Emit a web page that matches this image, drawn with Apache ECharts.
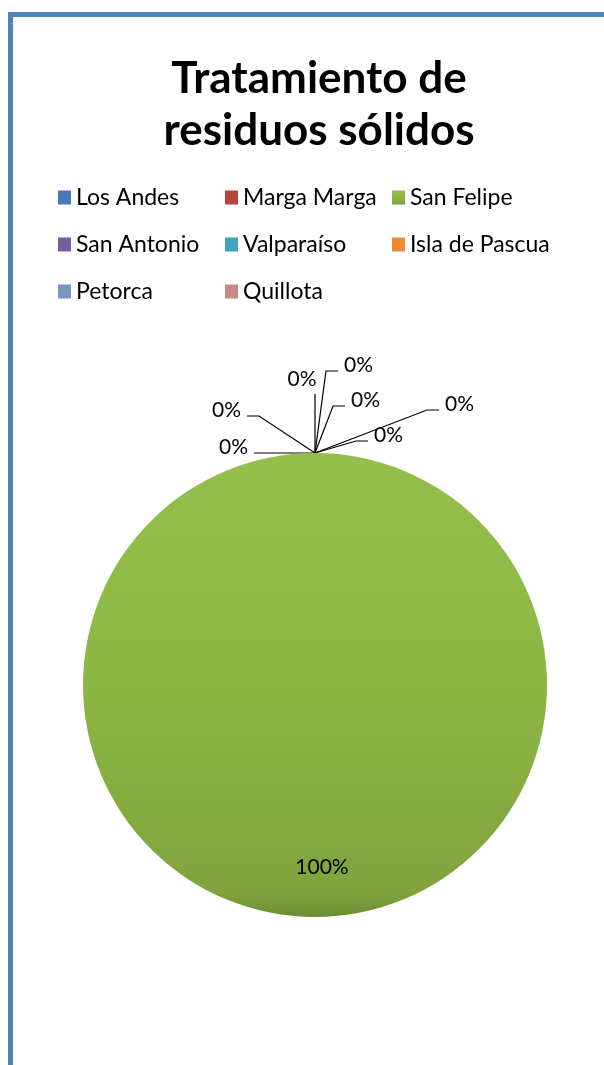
<!DOCTYPE html>
<html>
<head>
<meta charset="utf-8">
<script src="https://cdn.jsdelivr.net/npm/echarts@6/dist/echarts.min.js"></script>
<style>
	html, body { margin: 0; padding: 0; background: #fff; overflow: hidden; }
	#chart { width: 604px; height: 1065px; }
	.frame {
		position: absolute; left: 8px; top: 12px;
		width: 800px; height: 1300px;
		border: 5px solid #5283c0;
		pointer-events: none;
	}
</style>
</head>
<body>
<div id="chart"></div>
<div class="frame"></div>
<script>
var titleText = 'Tratamiento de\nresiduos sólidos';
var provincias = ['Los Andes', 'Marga Marga', 'San Felipe', 'San Antonio', 'Valparaíso', 'Isla de Pascua', 'Petorca', 'Quillota'];
var valores = [0, 0, 100, 0, 0, 0, 0, 0];
var colores = ['#4a7ab5', '#b8443f', '#8fb54c', '#7a5b9c', '#3fa3bf', '#ee8a35', '#7b95c2', '#c88886'];

// sitios de las etiquetas en 0%: codo relativo a la parte alta del pie, lado
var labelSpots = [[112, -43, 1], [41, -12, 1], [18, -47, 1], [11, -82, 1], [0, -59, 0], [-56, -37, -1], [-49, 0, -1]];

var cx = 315, cy = 685, r = 232;

var myChart = echarts.init(document.getElementById('chart'));

var pieData = [];
for (var i = 0; i < provincias.length; i++) {
	var item = {
		name: provincias[i],
		value: valores[i],
		itemStyle: { color: colores[i] }
	};
	if (valores[i] > 0) {
		item.itemStyle.color = {
			type: 'linear', x: 0, y: 0, x2: 0, y2: 1,
			colorStops: [
				{ offset: 0, color: '#95bf4d' },
				{ offset: 0.5, color: '#8cb744' },
				{ offset: 0.95, color: '#7fa33e' },
				{ offset: 1, color: '#6c8c33' }
			]
		};
		item.label = { position: 'inside' };
		item.labelLine = { show: false };
	}
	pieData.push(item);
}

var zeroOrder = [];
for (var j = 0; j < valores.length; j++) {
	if (valores[j] === 0) zeroOrder.push(j);
}

var option = {
	backgroundColor: '#fff',
	animation: false,
	title: {
		text: titleText,
		left: 314,
		top: 48,
		textAlign: 'center',
		textStyle: {
			fontFamily: 'Lato',
			fontWeight: 'bold',
			fontSize: 44,
			lineHeight: 52,
			color: '#000'
		}
	},
	legend: {
		data: provincias,
		left: 53,
		top: 174,
		width: 520,
		itemWidth: 13,
		itemHeight: 14,
		itemGap: 10,
		icon: 'rect',
		selectedMode: false,
		textStyle: {
			fontFamily: 'Lato',
			fontSize: 23,
			color: '#000',
			width: 139,
			lineHeight: 37
		}
	},
	series: [
		{
			name: 'Tratamiento',
			type: 'pie',
			center: [cx, cy],
			radius: r,
			startAngle: 90,
			clockwise: true,
			avoidLabelOverlap: false,
			percentPrecision: 0,
			silent: true,
			label: {
				show: true,
				position: 'outside',
				formatter: '{d}%',
				fontFamily: 'Lato',
				fontSize: 21,
				color: '#000'
			},
			labelLine: {
				show: true,
				lineStyle: { color: '#000', width: 1.2 }
			},
			labelLayout: function (params) {
				var idx = params.dataIndex;
				if (valores[idx] > 0) {
					return { dx: 7, dy: 63 };
				}
				var spot = labelSpots[zeroOrder.indexOf(idx)];
				var px = cx, py = cy - r;
				var ex = px + spot[0], ey = py + spot[1];
				if (spot[2] === 0) {
					return {
						x: px - 13, y: ey - 15,
						align: 'center', verticalAlign: 'middle',
						labelLinePoints: [[px, py], [ex, ey], [ex, ey]]
					};
				}
				var hx = ex + spot[2] * 12;
				return {
					x: hx + spot[2] * 6,
					y: ey - 6,
					align: spot[2] > 0 ? 'left' : 'right',
					verticalAlign: 'middle',
					labelLinePoints: [[px, py], [ex, ey], [hx, ey]]
				};
			},
			data: pieData
		}
	]
};

myChart.setOption(option);
</script>
</body>
</html>
